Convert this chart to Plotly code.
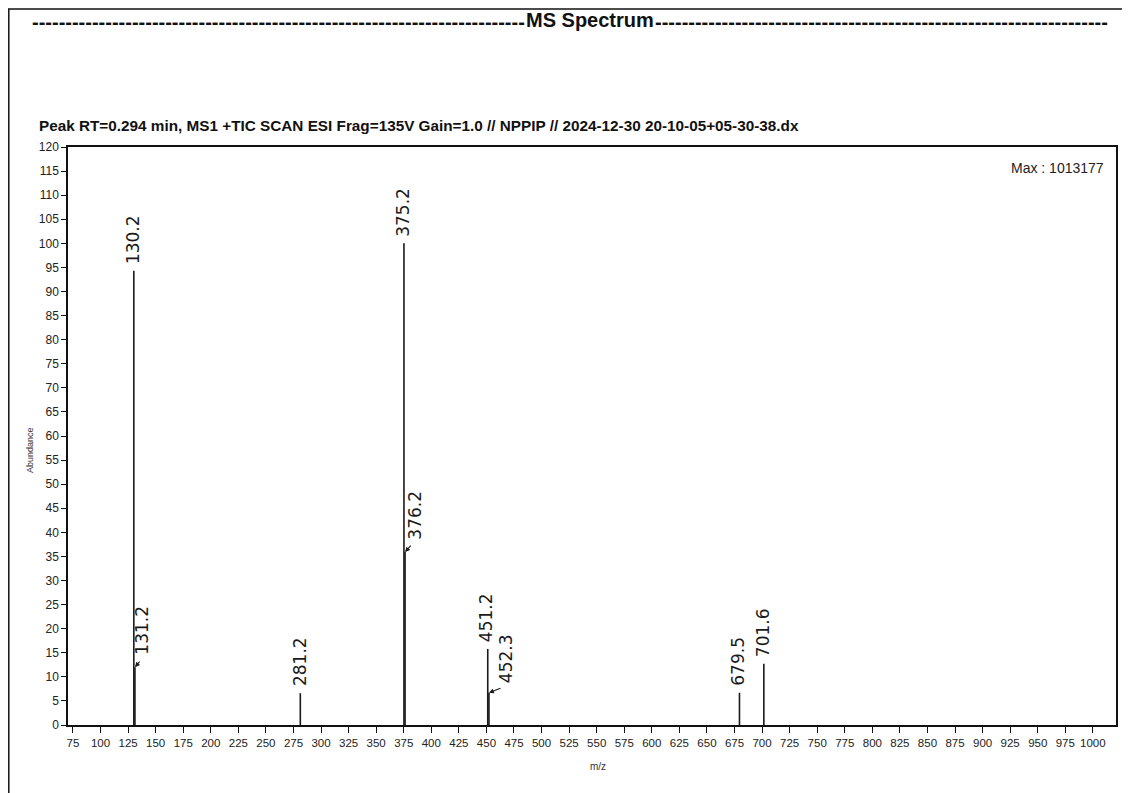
import plotly.graph_objects as go

# ---- data ----
mz = [130.2, 131.2, 281.2, 375.2, 376.2, 451.2, 452.3, 679.5, 701.6]
abundance = [94.3, 12.0, 6.6, 100.0, 35.9, 15.8, 6.7, 6.7, 12.7]
labels = ["130.2", "131.2", "281.2", "375.2", "376.2", "451.2", "452.3", "679.5", "701.6"]
x_ticks = list(range(75, 1001, 25))
y_ticks = list(range(0, 121, 5))

title_text = "MS Spectrum"
subtitle_text = "Peak RT=0.294 min, MS1 +TIC SCAN ESI Frag=135V Gain=1.0 // NPPIP // 2024-12-30 20-10-05+05-30-38.dx"
max_text = "Max : 1013177"
y_title = "Abundance"
x_title = "m/z"

# ---- styling ----
# labels drawn with a small leader arrow: (arrow dx, arrow dy, text xshift, text yshift)
leader_style = {"131.2": (6, -7, 7, 11), "376.2": (7, -8, 10, 10), "452.3": (13, -5, 17, 8)}
SANS = "Liberation Sans, Arial, sans-serif"
LABEL_FONT = dict(family="DejaVu Sans, sans-serif", size=17, color="#1a1a1a")

# page is placed with an 8px body margin, so work in figure pixels = reference - 8
W, H = 1122, 785
L, R, T, B = 60, 14, 139, 68
pw, ph = W - L - R, H - T - B


def px(x):
    return (x - 8 - L) / pw


def py(y):
    return (H - B - (y - 8)) / ph


# stick spectrum
xs, ys = [], []
for m, a in zip(mz, abundance):
    xs += [m, m, None]
    ys += [0, a, None]

fig = go.Figure()
fig.add_trace(go.Scatter(x=xs, y=ys, mode="lines",
                         line=dict(color="#1a1a1a", width=1.6),
                         hoverinfo="skip", showlegend=False))

annotations = []
for m, a, lab in zip(mz, abundance, labels):
    if lab in leader_style:
        adx, ady, tx, ty = leader_style[lab]
        annotations.append(dict(
            x=m, y=a, xref="x", yref="y", text="", showarrow=True,
            arrowhead=2, arrowsize=0.9, arrowwidth=1.1, arrowcolor="#1a1a1a",
            ax=adx, ay=ady, standoff=0))
        annotations.append(dict(
            x=m, y=a, xref="x", yref="y", text=lab, textangle=-90,
            showarrow=False, xanchor="center", yanchor="bottom",
            xshift=tx, yshift=ty, font=LABEL_FONT))
    else:
        annotations.append(dict(
            x=m, y=a, xref="x", yref="y", text=lab, textangle=-90,
            showarrow=False, xanchor="center", yanchor="bottom", yshift=5,
            xshift=-1, font=LABEL_FONT))

# title with dashed rule
annotations.append(dict(
    x=px(590), y=py(20), xref="paper", yref="paper", text=f"<b>{title_text}</b>",
    showarrow=False, xanchor="center", yanchor="middle",
    font=dict(family=SANS, size=20, color="#111")))
annotations.append(dict(
    x=px(527), y=py(22), xref="paper", yref="paper", text="<b>" + "-" * 74 + "</b>",
    showarrow=False, xanchor="right", yanchor="middle",
    font=dict(family=SANS, size=20, color="#111")))
annotations.append(dict(
    x=px(653), y=py(22), xref="paper", yref="paper", text="<b>" + "-" * 68 + "</b>",
    showarrow=False, xanchor="left", yanchor="middle",
    font=dict(family=SANS, size=20, color="#111")))
annotations.append(dict(
    x=px(37), y=py(125), xref="paper", yref="paper", text=f"<b>{subtitle_text}</b>",
    showarrow=False, xanchor="left", yanchor="middle",
    font=dict(family=SANS, size=15.3, color="#111")))
annotations.append(dict(
    x=px(1106), y=py(168), xref="paper", yref="paper", text=max_text,
    showarrow=False, xanchor="right", yanchor="middle",
    font=dict(family=SANS, size=14, color="#222")))
annotations.append(dict(
    x=px(30), y=py(450), xref="paper", yref="paper", text=y_title, textangle=-90,
    showarrow=False, xanchor="center", yanchor="middle",
    font=dict(family=SANS, size=9, color="#333")))
annotations.append(dict(
    x=px(598), y=py(766), xref="paper", yref="paper", text=x_title,
    showarrow=False, xanchor="center", yanchor="middle",
    font=dict(family=SANS, size=10, color="#333")))

fig.update_layout(
    width=W, height=H,
    margin=dict(l=L, r=R, t=T, b=B),
    paper_bgcolor="white", plot_bgcolor="white",
    annotations=annotations,
    showlegend=False,
    shapes=[
        dict(type="line", xref="paper", yref="paper",
             x0=px(8), x1=px(1130), y0=py(9), y1=py(9),
             line=dict(color="#111", width=1.5)),
        dict(type="line", xref="paper", yref="paper",
             x0=px(8.8), x1=px(8.8), y0=py(9), y1=py(800),
             line=dict(color="#111", width=1.5)),
    ],
)
fig.update_xaxes(range=[70.5, 1021], tickvals=x_ticks, ticktext=[str(v) for v in x_ticks],
                 showline=True, linecolor="#111", linewidth=1.5, mirror=True,
                 ticks="outside", ticklen=6, tickwidth=1, tickcolor="#111",
                 showgrid=False, zeroline=False,
                 tickfont=dict(family=SANS, size=11.5, color="#222"))
fig.update_yaxes(range=[0, 120], tickvals=y_ticks, ticktext=[str(v) for v in y_ticks],
                 showline=True, linecolor="#111", linewidth=1.5, mirror=True,
                 ticks="outside", ticklen=5, tickwidth=1, tickcolor="#111",
                 showgrid=False, zeroline=False,
                 tickfont=dict(family=SANS, size=12, color="#222"))

fig.write_html("out.html")
